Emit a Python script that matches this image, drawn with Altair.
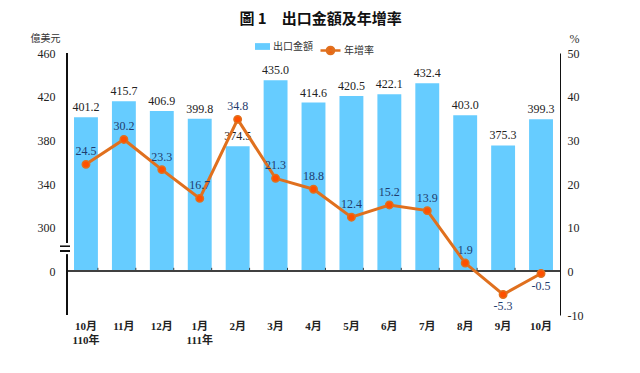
import altair as alt
import pandas as pd

months = ["10月", "11月", "12月", "1月", "2月", "3月", "4月", "5月", "6月", "7月", "8月", "9月", "10月"]
years = ["110年", "", "", "111年", "", "", "", "", "", "", "", "", ""]
exports = [401.2, 415.7, 406.9, 399.8, 374.5, 435.0, 414.6, 420.5, 422.1, 432.4, 403.0, 375.3, 399.3]
growth = [24.5, 30.2, 23.3, 16.7, 34.8, 21.3, 18.8, 12.4, 15.2, 13.9, 1.9, -5.3, -0.5]
left_ticks = [0, 300, 340, 380, 420, 460]
right_ticks = [-10, 0, 10, 20, 30, 40, 50]
series_names = ["出口金額", "年增率"]

# left axis is broken: 300..460 maps onto the right axis 10..50 (value = 260 + 4 * pct)
BASE, RATIO = 260, 4

cats = [f"{m}\n{y}" for m, y in zip(months, years)]
df = pd.DataFrame({
    "cat": cats,
    "export": exports,
    "growth": growth,
})
df["scaled"] = (df["export"] - BASE) / RATIO
df["last"] = [i == len(cats) - 1 for i in range(len(cats))]
df["s1"] = series_names[0]
df["s2"] = series_names[1]
df["elabel"] = [f"{v:.1f}" for v in exports]
df["glabel"] = [f"{v:.1f}" for v in growth]

W, H = 493, 262
SERIF = "Liberation Serif, Noto Sans CJK TC"
CJK = "Noto Sans CJK TC"

ysc = alt.Scale(domain=[-10, 50], nice=False, zero=False)
xscale = alt.Scale(paddingInner=0.37, paddingOuter=0.185)
xaxis = alt.Axis(title=None, orient="bottom", domain=False, ticks=False,
                 labelAngle=0, labelPadding=5, labelFont=SERIF, labelFontSize=11,
                 labelFontWeight="bold", labelColor="#222", labelLineHeight=14,
                 labelBaseline="top",
                 labelExpr="split(datum.value, '\\n')")
xenc = alt.X("cat:N", sort=cats, scale=xscale, axis=xaxis)

base = alt.Chart(df)

left_vals = [0] + [(v - BASE) / RATIO for v in left_ticks[1:]]

bars = base.mark_bar().encode(
    x=xenc,
    y=alt.Y("scaled:Q", scale=ysc,
            axis=alt.Axis(orient="left", values=left_vals, ticks=False, domain=False,
                          grid=False, labelPadding=12, labelFont=SERIF, labelFontSize=12,
                          labelColor="#222",
                          labelExpr=f"datum.value == 0 ? '0' : format({BASE} + {RATIO}*datum.value, 'd')",
                          title="億美元", titleAngle=0, titleFont=CJK, titleFontSize=10,
                          titleFontWeight="normal", titleColor="#333", titleAlign="right",
                          titleBaseline="middle", titleX=-7, titleY=-15)),
    y2=alt.Y2(datum=0),
    fill=alt.Fill("s1:N",
                  scale=alt.Scale(range=["#66CCFF"]),
                  legend=alt.Legend(title=None, orient="none", legendX=188, legendY=-14,
                                    symbolType="M-1,-0.45H1V0.45H-1Z", symbolSize=225,
                                    symbolStrokeWidth=0, labelFont=CJK, labelFontSize=10,
                                    labelColor="#333", labelOffset=3)),
)

bar_labels = base.mark_text(baseline="bottom", dy=-3, font=SERIF, fontSize=12, color="#222").encode(
    x=xenc,
    y=alt.Y("scaled:Q", scale=ysc, axis=None),
    text="elabel:N",
)

zero_line = base.mark_rule(color="#404040", strokeWidth=1.5).encode(
    x=alt.value(0), x2=alt.value(W),
    y=alt.Y(datum=0, scale=ysc, axis=None),
)

sep_ticks = base.transform_filter("!datum.last").mark_rule(color="#404040", strokeWidth=1).encode(
    x=alt.X("cat:N", sort=cats, bandPosition=1, scale=xscale, axis=xaxis),
    y=alt.Y(datum=0, scale=ysc, axis=None),
    y2=alt.Y2(datum=0.8),
)

axis_upper = base.mark_rule(color="#111", strokeWidth=1).encode(
    x=alt.value(0), y=alt.Y(datum=6.6, scale=ysc, axis=None), y2=alt.Y2(datum=50))
axis_lower = base.mark_rule(color="#111", strokeWidth=1).encode(
    x=alt.value(0), y=alt.Y(datum=-10, scale=ysc, axis=None), y2=alt.Y2(datum=3.8))
brk1 = base.mark_rule(color="#111", strokeWidth=1).encode(
    x=alt.value(-7), x2=alt.value(3), y=alt.Y(datum=5.7, scale=ysc, axis=None))
brk2 = base.mark_rule(color="#111", strokeWidth=1).encode(
    x=alt.value(-7), x2=alt.value(3), y=alt.Y(datum=4.6, scale=ysc, axis=None))

line = base.mark_line(strokeWidth=3).encode(
    x=xenc,
    y=alt.Y("growth:Q", scale=ysc,
            axis=alt.Axis(orient="right", values=right_ticks, ticks=False, domain=True,
                          domainColor="#111", domainWidth=1, grid=False, labelPadding=7,
                          labelFont=SERIF, labelFontSize=12, labelColor="#222",
                          labelExpr="datum.value < 0 ? '-' + format(-datum.value, 'd') : format(datum.value, 'd')",
                          title="%", titleAngle=0, titleFont=SERIF, titleFontSize=12,
                          titleFontWeight="normal", titleColor="#333", titleAlign="center",
                          titleBaseline="middle", titleX=14, titleY=-15)),
    stroke=alt.Stroke("s2:N",
                      scale=alt.Scale(range=["#E0701E"]),
                      legend=alt.Legend(title=None, orient="none", legendX=252, legendY=-14,
                                        symbolType="M-1,0H1M0.36,0A0.36,0.36,0,1,1,-0.36,0A0.36,0.36,0,1,1,0.36,0Z",
                                        symbolSize=400, symbolStrokeWidth=2.5,
                                        symbolFillColor="#FF5000",
                                        labelFont=CJK, labelFontSize=10, labelColor="#333",
                                        labelOffset=2)),
)

points = base.mark_point(filled=True, size=55, fill="#FF5000", stroke="#E0701E",
                         strokeWidth=1.5, opacity=1).encode(
    x=xenc,
    y=alt.Y("growth:Q", scale=ysc, axis=None),
)

pos_labels = base.transform_filter("datum.growth >= 0").mark_text(
    baseline="bottom", dy=-6, font=SERIF, fontSize=12, color="#1F3C6E").encode(
    x=xenc,
    y=alt.Y("growth:Q", scale=ysc, axis=None),
    text="glabel:N",
)
neg_labels = base.transform_filter("datum.growth < 0").mark_text(
    baseline="top", dy=7, font=SERIF, fontSize=12, color="#1F3C6E").encode(
    x=xenc,
    y=alt.Y("growth:Q", scale=ysc, axis=None),
    text="glabel:N",
)

chart = alt.layer(
    bars, bar_labels, zero_line, sep_ticks, axis_upper, axis_lower, brk1, brk2,
    line, points, pos_labels, neg_labels
).resolve_scale(y="independent").properties(
    width=W, height=H,
    autosize=alt.AutoSizeParams(type="none"),
    padding={"left": 59, "top": 45, "right": 72, "bottom": 50},
    title=alt.TitleParams("圖 1　出口金額及年增率", font=CJK, fontSize=15, fontWeight="bold",
                          color="#111", anchor="middle", offset=5, dx=7),
).configure_view(stroke=None)

chart.save("out.html", embed_options={"renderer": "svg", "actions": False})
